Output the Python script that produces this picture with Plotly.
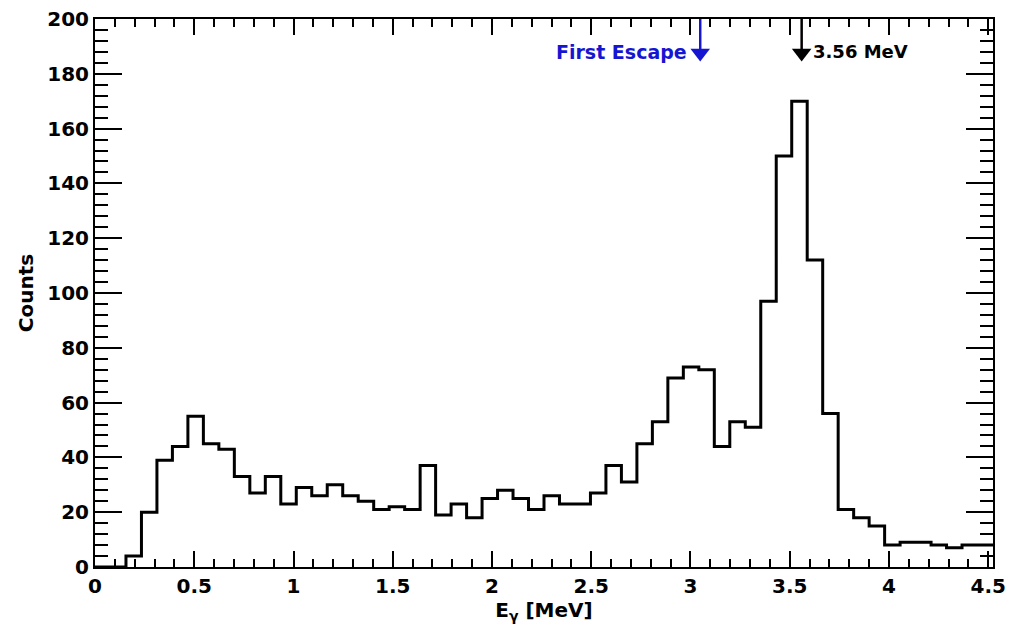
import plotly.graph_objects as go

# Gamma-ray energy spectrum: fixed-width bins starting at 0 MeV
BIN_WIDTH = 0.078  # MeV
counts = [0, 0, 4, 20, 39, 44, 55, 45, 43, 33,
          27, 33, 23, 29, 26, 30, 26, 24, 21, 22,
          21, 37, 19, 23, 18, 25, 28, 25, 21, 26,
          23, 23, 27, 37, 31, 45, 53, 69, 73, 72,
          44, 53, 51, 97, 150, 170, 112, 56, 21, 18,
          15, 8, 9, 9, 8, 7, 8, 8]

PEAK_E = 3.56            # full-energy peak, MeV
ESCAPE_E = 3.56 - 0.511  # single-escape peak, MeV

x_ticks = [0, 0.5, 1, 1.5, 2, 2.5, 3, 3.5, 4, 4.5]
x_tick_text = ["0", "0.5", "1", "1.5", "2", "2.5", "3", "3.5", "4", "4.5"]
y_ticks = list(range(0, 201, 20))

n_bins = len(counts)
edges = [i * BIN_WIDTH for i in range(n_bins + 1)]
x_max = edges[-1]

# step outline: each bin's level runs from its left edge to its right edge
step_x = [0.0] + edges[:-1] + [edges[-1]]
step_y = [0] + counts + [counts[-1]]

FONT = "DejaVu Sans, Verdana, sans-serif"
BLUE = "#1616d2"

fig = go.Figure()
fig.add_trace(go.Scatter(
    x=step_x, y=step_y, mode="lines", line=dict(shape="hv", color="black", width=3),
    hoverinfo="skip", showlegend=False,
))

# markers for the two peaks: vertical stem from the top frame plus a down-pointing head
for energy, color in ((ESCAPE_E, BLUE), (PEAK_E, "black")):
    fig.add_trace(go.Scatter(
        x=[energy, energy], y=[200, 189], mode="lines",
        line=dict(color=color, width=2.5), hoverinfo="skip", showlegend=False,
    ))
    fig.add_trace(go.Scatter(
        x=[energy], y=[187.6], mode="markers",
        marker=dict(symbol="triangle-down", size=17, color=color, line=dict(width=0)),
        hoverinfo="skip", showlegend=False,
    ))

fig.add_annotation(x=PEAK_E, y=188.0, xref="x", yref="y", text="3.56 MeV",
                   showarrow=False, xanchor="left", yanchor="middle", xshift=9,
                   font=dict(family=FONT, size=18, color="black", weight="bold"))
fig.add_annotation(x=ESCAPE_E, y=188.0, xref="x", yref="y", text="First Escape",
                   showarrow=False, xanchor="right", yanchor="middle", xshift=-11,
                   font=dict(family=FONT, size=19, color=BLUE, weight="bold"))

axis_common = dict(
    showgrid=False, zeroline=False, showline=True, linecolor="black", linewidth=2,
    mirror="ticks", ticks="inside", tickcolor="black", automargin=False,
    tickfont=dict(family=FONT, size=20, color="black", weight="bold"),
)

fig.update_xaxes(
    range=[0, x_max], tickvals=x_ticks, ticktext=x_tick_text, ticklen=16, tickwidth=1.5,
    minor=dict(ticks="inside", dtick=0.1, tick0=0, ticklen=8, tickcolor="black", tickwidth=1.5),
    title=dict(text="E<sub>γ</sub> [MeV]", standoff=2,
               font=dict(family=FONT, size=20, color="black", weight="bold")),
    **axis_common,
)
fig.update_yaxes(
    range=[0, 200], tickvals=y_ticks, ticklen=27, tickwidth=1.5,
    minor=dict(ticks="inside", dtick=4, tick0=0, ticklen=13, tickcolor="black", tickwidth=1.5),
    title=dict(text="Counts", standoff=8,
               font=dict(family=FONT, size=20, color="black", weight="bold")),
    **axis_common,
)

fig.update_layout(
    width=1020, height=626,
    margin=dict(l=95, r=27, t=19, b=59),
    paper_bgcolor="white", plot_bgcolor="white",
    font=dict(family=FONT, color="black"),
    showlegend=False,
)

fig.write_html("out.html")
